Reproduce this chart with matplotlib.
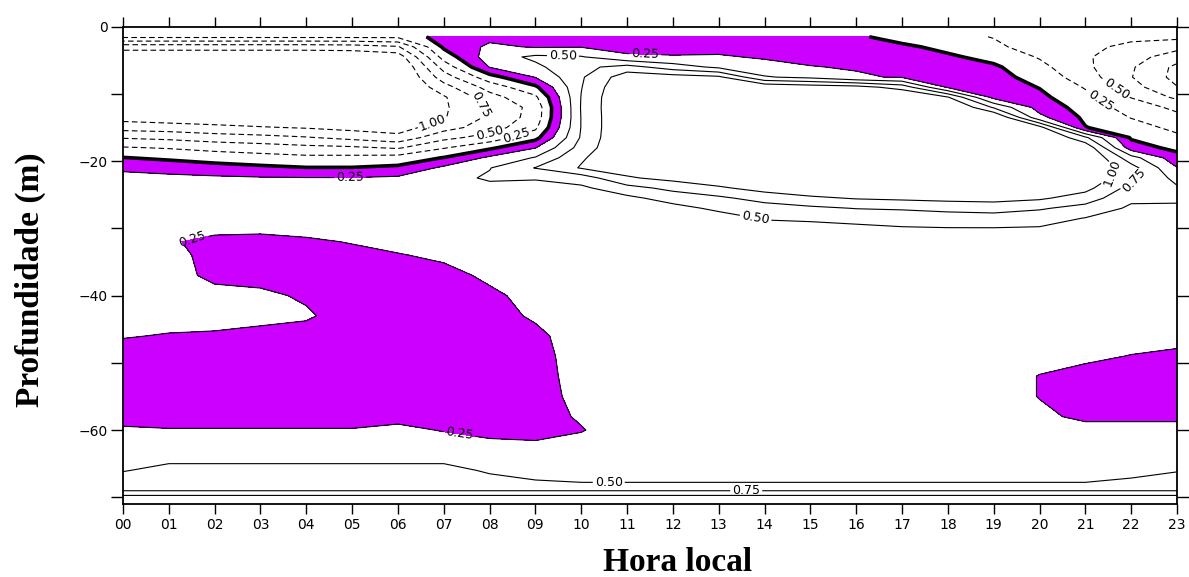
import numpy as np
import matplotlib
matplotlib.use("Agg")
import matplotlib.pyplot as plt
from matplotlib.ticker import FixedLocator

# ---------------- data ----------------
hours = list(range(24))
hour_labels = [f"{h:02d}" for h in hours]

# depths (m, positive downward)
depth_upper = [1.5, 3, 4.5, 6, 7.5, 9, 10.5, 12, 13.5, 15, 16.5, 18, 19.5, 21, 22.5,
               24, 25.5, 27, 28.5, 30]
depth_lower = [32, 34, 37, 40, 43, 46, 49, 52, 55, 58, 60, 62, 64, 66, 68, 69, 70]

# field values, one row per hour (00..23), upper layer (depth_upper)
field_upper = [
    [-0.20, -0.90, -1.20, -1.30, -1.35, -1.35, -1.32, -1.28, -1.10, -0.85, -0.52, -0.23, 0.01, 0.22, 0.30, 0.33, 0.34, 0.34, 0.34, 0.34],  # 00
    [-0.20, -0.90, -1.20, -1.30, -1.35, -1.35, -1.32, -1.28, -1.15, -0.88, -0.56, -0.27, -0.05, 0.17, 0.30, 0.34, 0.34, 0.34, 0.33, 0.32],  # 01
    [-0.20, -0.90, -1.20, -1.30, -1.35, -1.35, -1.32, -1.28, -1.18, -0.93, -0.63, -0.33, -0.11, 0.10, 0.29, 0.34, 0.34, 0.34, 0.33, 0.30],  # 02
    [-0.20, -0.90, -1.20, -1.30, -1.35, -1.35, -1.32, -1.28, -1.20, -0.98, -0.67, -0.38, -0.15, 0.05, 0.27, 0.34, 0.34, 0.34, 0.33, 0.30],  # 03
    [-0.20, -0.90, -1.20, -1.30, -1.35, -1.35, -1.32, -1.28, -1.22, -1.02, -0.73, -0.43, -0.19, 0.01, 0.26, 0.33, 0.34, 0.34, 0.34, 0.31],  # 04
    [-0.20, -0.88, -1.20, -1.30, -1.35, -1.35, -1.32, -1.28, -1.24, -1.08, -0.82, -0.46, -0.18, 0.01, 0.26, 0.34, 0.35, 0.35, 0.34, 0.33],  # 05
    [-0.20, -0.78, -1.15, -1.30, -1.33, -1.33, -1.30, -1.25, -1.20, -1.12, -0.92, -0.53, -0.15, 0.05, 0.29, 0.36, 0.36, 0.35, 0.34, 0.33],  # 06
    [0.12, 0.04, -0.15, -0.40, -0.62, -0.85, -1.03, -1.04, -1.02, -0.85, -0.57, -0.27, 0.01, 0.30, 0.42, 0.44, 0.40, 0.37, 0.35, 0.34],    # 07
    [0.18, 0.30, 0.38, 0.26, -0.10, -0.40, -0.60, -0.70, -0.70, -0.62, -0.40, -0.05, 0.30, 0.49, 0.53, 0.44, 0.38, 0.36, 0.35, 0.34],     # 08
    [0.15, 0.23, 0.55, 0.45, 0.26, -0.05, -0.30, -0.42, -0.40, -0.30, -0.08, 0.24, 0.52, 0.76, 0.52, 0.42, 0.38, 0.37, 0.36, 0.35],       # 09
    [0.15, 0.24, 0.52, 0.68, 0.72, 0.74, 0.76, 0.77, 0.76, 0.76, 0.78, 0.85, 0.97, 1.02, 0.62, 0.45, 0.40, 0.38, 0.37, 0.36],             # 10
    [0.12, 0.17, 0.29, 0.85, 1.15, 1.25, 1.30, 1.30, 1.30, 1.30, 1.30, 1.28, 1.22, 1.12, 0.97, 0.66, 0.44, 0.40, 0.38, 0.37],             # 11
    [0.10, 0.16, 0.27, 0.62, 1.12, 1.30, 1.35, 1.35, 1.35, 1.35, 1.35, 1.35, 1.30, 1.22, 1.08, 0.82, 0.60, 0.42, 0.38, 0.37],             # 12
    [0.10, 0.16, 0.28, 0.45, 1.05, 1.30, 1.38, 1.40, 1.40, 1.40, 1.40, 1.40, 1.40, 1.30, 1.18, 0.96, 0.70, 0.55, 0.40, 0.37],             # 13
    [0.10, 0.15, 0.22, 0.35, 0.52, 1.22, 1.38, 1.40, 1.40, 1.40, 1.40, 1.40, 1.40, 1.40, 1.28, 1.10, 0.85, 0.63, 0.52, 0.40],             # 14
    [0.08, 0.13, 0.19, 0.26, 0.44, 1.15, 1.35, 1.40, 1.40, 1.40, 1.40, 1.40, 1.40, 1.40, 1.40, 1.20, 0.95, 0.70, 0.54, 0.42],             # 15
    [0.04, 0.10, 0.16, 0.23, 0.28, 1.10, 1.35, 1.40, 1.40, 1.40, 1.40, 1.40, 1.40, 1.40, 1.40, 1.25, 1.02, 0.76, 0.57, 0.45],             # 16
    [-0.10, 0.05, 0.12, 0.17, 0.23, 0.90, 1.30, 1.40, 1.40, 1.40, 1.40, 1.40, 1.40, 1.40, 1.40, 1.28, 1.05, 0.78, 0.60, 0.48],            # 17
    [-0.18, -0.07, 0.04, 0.10, 0.15, 0.22, 1.02, 1.35, 1.40, 1.40, 1.40, 1.40, 1.40, 1.40, 1.40, 1.30, 1.08, 0.82, 0.63, 0.49],           # 18
    [-0.26, -0.20, -0.08, 0.04, 0.09, 0.14, 0.18, 0.72, 1.30, 1.40, 1.40, 1.40, 1.40, 1.40, 1.40, 1.30, 1.10, 0.84, 0.65, 0.49],          # 19
    [-0.38, -0.36, -0.27, -0.18, -0.10, -0.01, 0.06, 0.15, 0.32, 1.10, 1.35, 1.40, 1.40, 1.40, 1.40, 1.25, 1.04, 0.78, 0.60, 0.48],       # 20
    [-0.40, -0.45, -0.47, -0.45, -0.38, -0.27, -0.18, -0.10, -0.05, 0.01, 0.80, 1.20, 1.30, 1.30, 1.20, 1.08, 0.88, 0.66, 0.49, 0.42],    # 21
    [-0.45, -0.55, -0.65, -0.72, -0.74, -0.65, -0.51, -0.36, -0.26, -0.15, -0.03, 0.12, 0.60, 0.85, 0.82, 0.66, 0.55, 0.46, 0.42, 0.40],  # 22
    [-0.44, -0.67, -0.88, -1.06, -1.08, -0.99, -0.80, -0.56, -0.43, -0.31, -0.20, -0.07, 0.10, 0.26, 0.42, 0.53, 0.55, 0.45, 0.40, 0.38], # 23
]

# field values, one row per hour (00..23), lower layer (depth_lower)
field_lower = [
    [0.33, 0.33, 0.33, 0.33, 0.33, 0.26, 0.18, 0.16, 0.16, 0.20, 0.27, 0.33, 0.42, 0.49, 0.60, 0.74, 1.10],   # 00
    [0.27, 0.30, 0.30, 0.31, 0.31, 0.24, 0.17, 0.15, 0.15, 0.18, 0.26, 0.33, 0.45, 0.55, 0.65, 0.74, 1.10],   # 01
    [0.20, 0.20, 0.22, 0.29, 0.31, 0.23, 0.16, 0.15, 0.15, 0.18, 0.26, 0.33, 0.45, 0.55, 0.65, 0.74, 1.10],   # 02
    [0.18, 0.17, 0.20, 0.28, 0.29, 0.21, 0.16, 0.15, 0.15, 0.18, 0.26, 0.33, 0.45, 0.55, 0.65, 0.74, 1.10],   # 03
    [0.22, 0.17, 0.16, 0.23, 0.27, 0.19, 0.15, 0.15, 0.15, 0.18, 0.26, 0.33, 0.45, 0.55, 0.65, 0.74, 1.10],   # 04
    [0.26, 0.20, 0.17, 0.17, 0.18, 0.17, 0.15, 0.15, 0.15, 0.18, 0.26, 0.33, 0.45, 0.55, 0.65, 0.74, 1.10],   # 05
    [0.30, 0.24, 0.18, 0.16, 0.16, 0.16, 0.15, 0.15, 0.16, 0.20, 0.29, 0.34, 0.45, 0.55, 0.65, 0.74, 1.10],   # 06
    [0.32, 0.28, 0.20, 0.17, 0.16, 0.16, 0.16, 0.16, 0.17, 0.20, 0.24, 0.32, 0.45, 0.55, 0.65, 0.74, 1.10],   # 07
    [0.33, 0.31, 0.28, 0.22, 0.17, 0.17, 0.17, 0.17, 0.17, 0.18, 0.20, 0.28, 0.42, 0.48, 0.56, 0.74, 1.10],   # 08
    [0.34, 0.33, 0.31, 0.30, 0.28, 0.20, 0.18, 0.18, 0.18, 0.18, 0.18, 0.27, 0.40, 0.45, 0.52, 0.74, 1.10],   # 09
    [0.35, 0.35, 0.35, 0.35, 0.35, 0.36, 0.34, 0.32, 0.30, 0.27, 0.24, 0.30, 0.38, 0.42, 0.51, 0.74, 1.10],   # 10
    [0.36, 0.36, 0.36, 0.36, 0.36, 0.36, 0.36, 0.35, 0.35, 0.35, 0.34, 0.33, 0.38, 0.42, 0.51, 0.74, 1.10],   # 11
    [0.36, 0.36, 0.36, 0.36, 0.36, 0.36, 0.36, 0.36, 0.35, 0.35, 0.34, 0.33, 0.38, 0.42, 0.51, 0.74, 1.10],   # 12
    [0.36, 0.36, 0.36, 0.36, 0.36, 0.36, 0.36, 0.36, 0.35, 0.35, 0.34, 0.33, 0.38, 0.42, 0.51, 0.74, 1.10],   # 13
    [0.38, 0.37, 0.36, 0.36, 0.36, 0.36, 0.36, 0.36, 0.35, 0.35, 0.34, 0.33, 0.38, 0.42, 0.51, 0.74, 1.10],   # 14
    [0.40, 0.38, 0.37, 0.36, 0.36, 0.36, 0.36, 0.36, 0.35, 0.35, 0.34, 0.33, 0.38, 0.42, 0.51, 0.74, 1.10],   # 15
    [0.42, 0.39, 0.37, 0.36, 0.36, 0.36, 0.36, 0.36, 0.35, 0.35, 0.34, 0.33, 0.38, 0.42, 0.51, 0.74, 1.10],   # 16
    [0.43, 0.40, 0.37, 0.36, 0.36, 0.36, 0.36, 0.36, 0.35, 0.35, 0.34, 0.33, 0.38, 0.42, 0.51, 0.74, 1.10],   # 17
    [0.44, 0.40, 0.37, 0.36, 0.36, 0.36, 0.36, 0.36, 0.35, 0.35, 0.34, 0.33, 0.38, 0.42, 0.51, 0.74, 1.10],   # 18
    [0.44, 0.40, 0.37, 0.36, 0.36, 0.35, 0.33, 0.32, 0.32, 0.33, 0.34, 0.34, 0.38, 0.42, 0.51, 0.74, 1.10],   # 19
    [0.43, 0.40, 0.37, 0.35, 0.33, 0.32, 0.30, 0.245, 0.245, 0.28, 0.32, 0.34, 0.38, 0.42, 0.51, 0.74, 1.10], # 20
    [0.40, 0.38, 0.36, 0.35, 0.33, 0.31, 0.28, 0.20, 0.18, 0.22, 0.30, 0.34, 0.38, 0.42, 0.51, 0.74, 1.10],   # 21
    [0.39, 0.37, 0.35, 0.34, 0.33, 0.31, 0.245, 0.18, 0.17, 0.22, 0.30, 0.34, 0.40, 0.46, 0.53, 0.74, 1.10],  # 22
    [0.37, 0.36, 0.35, 0.34, 0.32, 0.30, 0.22, 0.17, 0.17, 0.22, 0.30, 0.34, 0.42, 0.49, 0.58, 0.74, 1.10],   # 23
]

neg_levels = [-1.0, -0.75, -0.5, -0.25]
zero_level = [0.0]
pos_levels = [0.25, 0.5, 0.75, 1.0]
fill_band = [0.0, 0.25]

# contour label anchor points (layout only)
neg_label_pos = [(6.77, -14.4), (7.75, -11.9), (8.0, -15.8), (8.6, -16.3),
                 (21.7, -9.0), (21.3, -11.4)]
pos_label_pos = [(4.95, -22.4), (9.6, -4.3), (11.4, -3.6), (13.8, -28.6),
                 (21.6, -21.8), (22.1, -23.3), (1.5, -31.0), (7.35, -60.3),
                 (10.6, -68.0), (13.6, -69.0)]

# ---------------- plot ----------------
depth = np.array(depth_upper + depth_lower, dtype=float)
Z = np.hstack([np.array(field_upper), np.array(field_lower)]).T
X, Y = np.meshgrid(np.array(hours, dtype=float), -depth)

fig = plt.figure(figsize=(11.89, 5.77), dpi=100)
ax = fig.add_axes([123 / 1189, 1 - 504 / 577, (1177 - 123) / 1189, (504 - 26.7) / 577])

ax.contourf(X, Y, Z, levels=fill_band, colors=["#CC00FF"])
cn = ax.contour(X, Y, Z, levels=neg_levels, colors="k", linewidths=0.8)
cn.set_linestyle((0, (5, 3)))
c0 = ax.contour(X, Y, Z, levels=zero_level, colors="k", linewidths=2.6)
cp = ax.contour(X, Y, Z, levels=pos_levels, colors="k", linewidths=0.8, linestyles="solid")

ax.clabel(cn, manual=neg_label_pos, fmt=lambda v: f"{abs(v):.2f}", fontsize=9,
          inline=True, inline_spacing=2)
ax.clabel(cp, manual=pos_label_pos, fmt=lambda v: f"{v:.2f}", fontsize=9,
          inline=True, inline_spacing=2)

ax.set_xlim(0, 23)
ax.set_ylim(-71, 0)
ax.set_xticks(hours)
ax.set_xticklabels(hour_labels)
ax.set_yticks([0, -20, -40, -60])
ax.yaxis.set_minor_locator(FixedLocator([-10, -30, -50, -70]))
ax.tick_params(axis="both", which="both", direction="out", top=True, right=True,
               labeltop=False, labelright=False, width=1.0, color="black")
ax.tick_params(axis="x", length=7, labelsize=10, pad=3)
ax.tick_params(axis="y", which="both", length=9, labelsize=10, pad=2)
for s in ax.spines.values():
    s.set_linewidth(1.3)

fig.text(678 / 1189, 1 - 571 / 577, "Hora local", ha="center", va="baseline",
         fontsize=24, fontweight="bold", family="Liberation Serif")
fig.text(30 / 1189, 1 - 280 / 577, "Profundidade (m)", ha="center", va="center",
         rotation=90, fontsize=24, fontweight="bold", family="Liberation Serif")

fig.savefig("out.png", dpi=100)
